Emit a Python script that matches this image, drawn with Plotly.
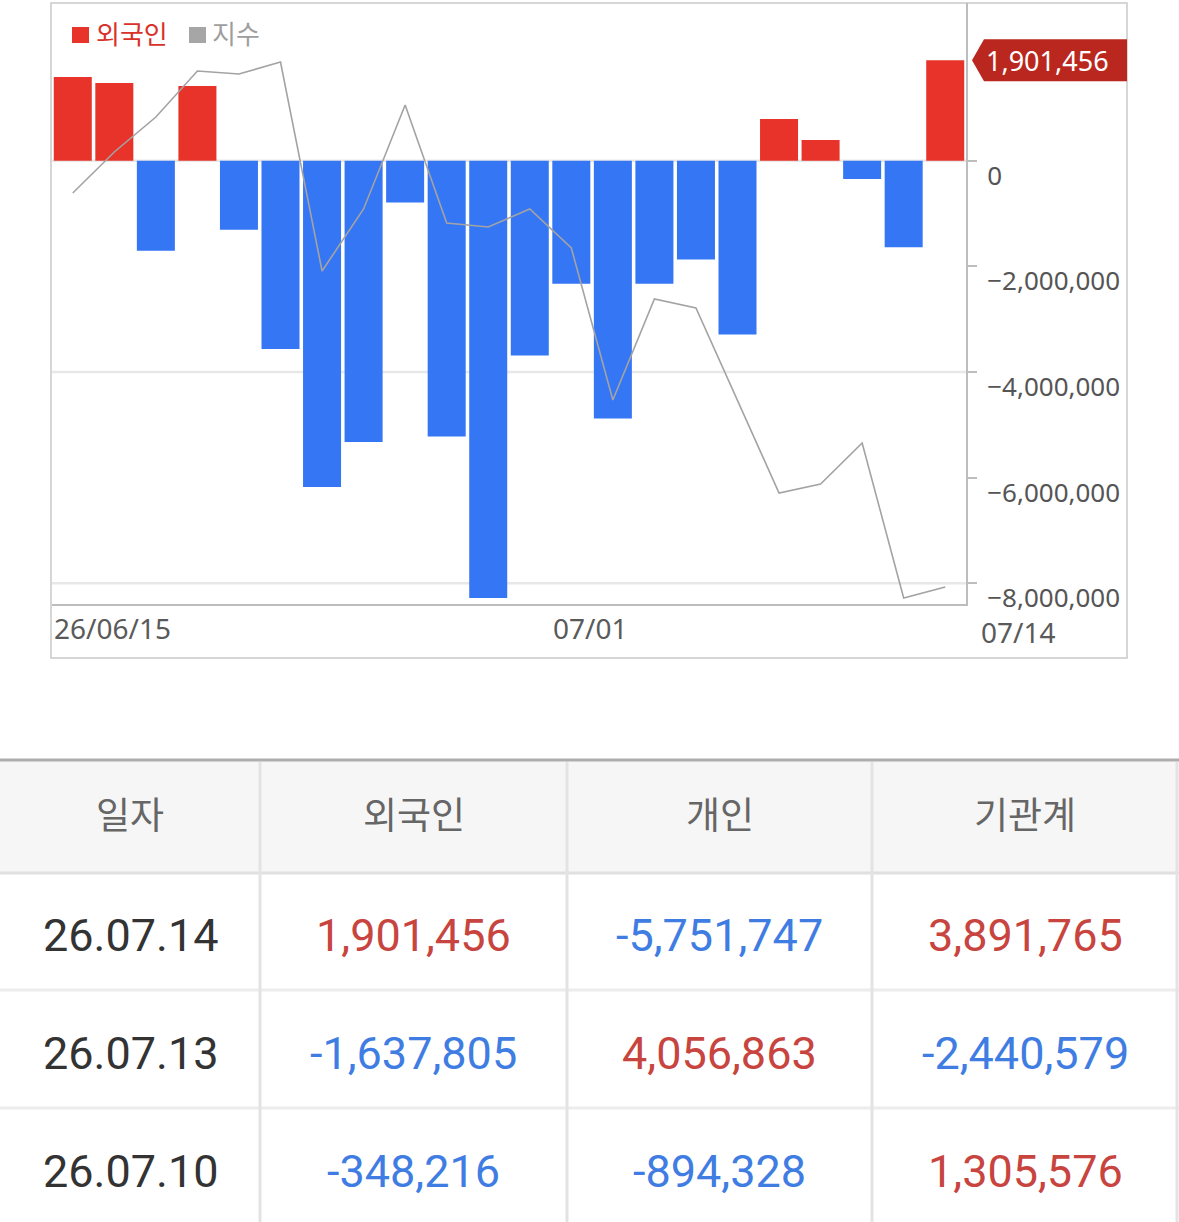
import plotly.graph_objects as go

W, H = 1179, 1222

# 외국인 순매수 (일별)
days = ["06/15", "06/16", "06/17", "06/18", "06/19", "06/22", "06/23", "06/24",
        "06/25", "06/26", "06/29", "06/30", "07/01", "07/02", "07/03", "07/06",
        "07/07", "07/08", "07/09", "07/10", "07/13", "07/14"]
foreign_net = [1584000, 1471000, -1704000, 1414000, -1306000, -3565000, -6177000,
               -5325000, -790000, -5220000, -8278000, -3690000, -2330000, -4880000,
               -2330000, -1870000, -3290000, 790000, 390000, -348216, -1637805, 1901456]
# 지수 (07/07 값은 그림에서 점이 보이지 않음)
index_vals = [2836.77, 2850.42, 2862.06, 2877.37, 2876.37, 2880.37, 2810.82, 2831.45,
              2866.06, 2826.79, 2825.46, 2831.45, 2818.47, 2767.89, 2801.50, 2798.50,
              None, 2736.94, 2739.93, 2753.58, 2702.00, 2705.66]
x_labels = {0: "26/06/15", 12: "07/01", 21: "07/14"}
y_ticks = [0, -2000000, -4000000, -6000000, -8000000]
grid_vals = [0, -4000000, -8000000]

# 하단 표
table_header = ["일자", "외국인", "개인", "기관계"]
table_dates = ["26.07.14", "26.07.13", "26.07.10"]
table_foreign = [1901456, -1637805, -348216]
table_individual = [-5751747, 4056863, -894328]
table_institution = [3891765, -2440579, 1305576]

RED = "#E8332B"
BLUE = "#3576F5"
GREY_LINE = "#A3A3A3"
TXT_RED = "#C8443F"
TXT_BLUE = "#3F7DE3"
CHART_FONT = "Noto Sans, Noto Sans CJK KR"
TABLE_FONT = "Roboto, Noto Sans CJK KR"


def px(x):
    return x / W


def py(y):
    return 1 - y / H


fig = go.Figure()
fig.add_trace(go.Bar(
    x=days, y=foreign_net,
    marker=dict(color=[RED if v >= 0 else BLUE for v in foreign_net], line=dict(width=0)),
    yaxis="y", hoverinfo="skip",
))
fig.add_trace(go.Scatter(
    x=days, y=index_vals, mode="lines", connectgaps=True,
    line=dict(color=GREY_LINE, width=1.6),
    yaxis="y2", hoverinfo="skip",
))

shapes = []
annotations = []

# 차트 외곽 프레임
shapes.append(dict(type="rect", xref="paper", yref="paper",
                   x0=px(51), x1=px(1127), y0=py(658), y1=py(3),
                   line=dict(color="#C9C9C9", width=1.5), layer="below"))
for g in grid_vals:
    shapes.append(dict(type="line", xref="paper", yref="y", x0=px(52), x1=px(966),
                       y0=g, y1=g, line=dict(color="#E8E8E8", width=2.5), layer="below"))

# 범례
shapes.append(dict(type="rect", xref="paper", yref="paper", x0=px(72), x1=px(89),
                   y0=py(43), y1=py(27), fillcolor=RED, line=dict(width=0)))
shapes.append(dict(type="rect", xref="paper", yref="paper", x0=px(189), x1=px(206),
                   y0=py(43), y1=py(27), fillcolor="#A6A6A6", line=dict(width=0)))
annotations.append(dict(xref="paper", yref="paper", x=px(94), y=py(33), text="외국인",
                        showarrow=False, xanchor="left", yanchor="middle",
                        font=dict(family="Noto Sans CJK KR", size=26, color="#D8322B")))
annotations.append(dict(xref="paper", yref="paper", x=px(210), y=py(33), text="지수",
                        showarrow=False, xanchor="left", yanchor="middle",
                        font=dict(family="Noto Sans CJK KR", size=26, color="#9E9E9E")))

# 마지막 값 배지
last_val = foreign_net[-1]
shapes.append(dict(type="path", xref="paper", yref="y",
                   xsizemode="pixel", ysizemode="pixel",
                   xanchor=px(966), yanchor=last_val,
                   path="M6,0 L18,21 L161,21 L161,-21 L18,-21 Z",
                   fillcolor="#BA271F", line=dict(width=0)))
annotations.append(dict(xref="paper", yref="y", x=px(1047), y=last_val, text=f"{last_val:,}",
                        showarrow=False, xanchor="center", yanchor="middle",
                        font=dict(family=CHART_FONT, size=27, color="white")))

# x축 라벨
for i, lab in x_labels.items():
    if i == len(days) - 1:
        annotations.append(dict(xref="x", yref="paper", x=i + 0.5, y=py(632), text=lab,
                                showarrow=False, xanchor="left", yanchor="middle", xshift=13,
                                font=dict(family=CHART_FONT, size=28, color="#5A5A5A")))
    else:
        annotations.append(dict(xref="x", yref="paper", x=i - 0.5, y=py(628), text=lab,
                                showarrow=False, xanchor="left", yanchor="middle", xshift=0,
                                font=dict(family=CHART_FONT, size=28, color="#5A5A5A")))

# 표
col_edges = [0, 260, 567, 872, 1179]
row_edges = [872, 990, 1108, 1222]
shapes.append(dict(type="rect", xref="paper", yref="paper", x0=0, x1=1, y0=py(872), y1=py(760),
                   fillcolor="#F6F6F6", line=dict(width=0), layer="below"))
shapes.append(dict(type="line", xref="paper", yref="paper", x0=0, x1=1, y0=py(760), y1=py(760),
                   line=dict(color="#ADADAD", width=3)))
shapes.append(dict(type="line", xref="paper", yref="paper", x0=0, x1=1, y0=py(873), y1=py(873),
                   line=dict(color="#E0E0E0", width=3)))
for r in row_edges[1:-1]:
    shapes.append(dict(type="line", xref="paper", yref="paper", x0=0, x1=1, y0=py(r), y1=py(r),
                       line=dict(color="#ECECEC", width=3)))
for c in col_edges[1:-1] + [1177]:
    shapes.append(dict(type="line", xref="paper", yref="paper", x0=px(c), x1=px(c),
                       y0=py(762), y1=0, line=dict(color="#E3E3E3", width=3)))

centers = [(col_edges[k] + col_edges[k + 1]) / 2 for k in range(4)]
centers[-1] = 1025
for k, name in enumerate(table_header):
    annotations.append(dict(xref="paper", yref="paper", x=px(centers[k]), y=py(816), text=name,
                            showarrow=False, xanchor="center", yanchor="middle",
                            font=dict(family=TABLE_FONT, size=37, color="#666666")))


def val_color(v):
    return TXT_RED if v > 0 else TXT_BLUE


# 마지막 줄은 화면 끝에서 잘려 있어 글자가 아래쪽에 보임
row_text_y = [935, 1053, 1171]
for r in range(len(table_dates)):
    yc = row_text_y[r]
    cells = [(table_dates[r], "#333333")]
    for col in (table_foreign, table_individual, table_institution):
        cells.append((f"{col[r]:,}", val_color(col[r])))
    for k, (txt, colr) in enumerate(cells):
        annotations.append(dict(xref="paper", yref="paper", x=px(centers[k]), y=py(yc), text=txt,
                                showarrow=False, xanchor="center", yanchor="middle",
                                font=dict(family=TABLE_FONT, size=45, color=colr)))

# y축: 0 은 화면 y=160.7, -8,000,000 은 y=583.3
PX_PER_UNIT = 52.825e-6
y_top = (160.7 - 3) / PX_PER_UNIT
y_bottom = -(604 - 160.7) / PX_PER_UNIT

fig.update_layout(
    width=W, height=H, autosize=False,
    margin=dict(l=0, r=0, t=0, b=0, autoexpand=False),
    paper_bgcolor="white", plot_bgcolor="white",
    showlegend=False, bargap=0.085,
    xaxis=dict(domain=[px(52), px(966)], range=[-0.5, len(days) - 0.5],
               showticklabels=False, ticks="", showgrid=False, zeroline=False,
               showline=True, linecolor="#BDBDBD", linewidth=2,
               anchor="y", fixedrange=True, automargin=False),
    yaxis=dict(domain=[py(604), py(3)], range=[y_bottom, y_top],
               side="right", showgrid=False, zeroline=False,
               showline=True, linecolor="#BDBDBD", linewidth=2,
               tickvals=y_ticks, ticktext=[f"{v:,}".replace("-", "−") for v in y_ticks],
               ticks="outside", ticklen=9, tickwidth=2, tickcolor="#BDBDBD",
               ticklabelstandoff=5, ticklabelshift=15,
               tickfont=dict(family=CHART_FONT, size=26, color="#555555"),
               anchor="x", automargin=False),
    yaxis2=dict(overlaying="y", range=[2700, 2900], visible=False, showgrid=False,
                automargin=False),
    shapes=shapes,
    annotations=annotations,
)

# 브라우저 기본 body 여백 제거
fig.write_html("out.html", config={"displayModeBar": False},
               post_script="document.body.style.margin='0';")
